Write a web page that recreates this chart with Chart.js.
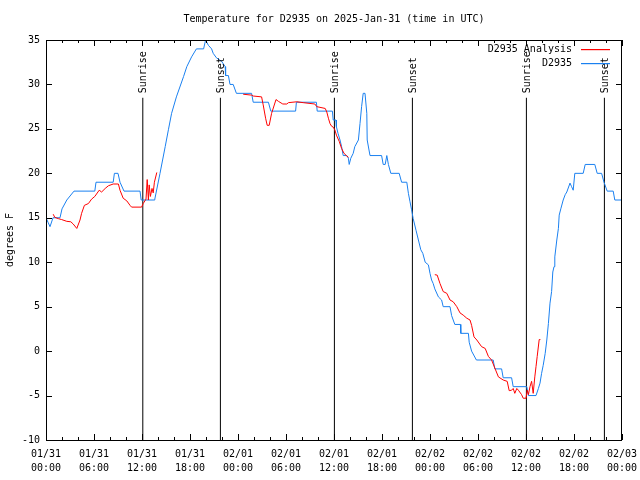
<!DOCTYPE html>
<html>
<head>
<meta charset="utf-8">
<script src="https://cdn.jsdelivr.net/npm/chart.js@4.4.1/dist/chart.umd.min.js"></script>
<style>
  body { margin: 0; background: #fff; }
</style>
</head>
<body>
<canvas id="myChart" width="640" height="480"></canvas>
<script>
// hours after 01/31 00:00 UTC, temperature in degrees F
var observed = [
    [0, 15], [0.25, 14.5], [0.5, 14], [0.875, 15], [1.75, 15], [2.0, 16], [2.6, 17], [3.5, 18],
    [6.1, 18], [6.25, 19], [8.4, 19], [8.55, 20], [9.0, 20], [9.25, 19], [9.75, 18], [11.75, 18],
    [11.9, 17], [13.5, 17], [13.6, 17.1], [14.25, 20], [14.9, 23], [15.3, 24.9], [15.7, 26.75],
    [16.3, 28.6], [17.2, 30.9], [17.6, 32], [18.2, 33.1], [18.8, 34], [19.7, 34], [19.95, 35],
    [20.3, 34.4], [20.7, 34], [20.9, 33.5], [21.3, 33], [21.95, 32.6], [22.4, 32], [22.45, 31],
    [22.8, 31], [23.0, 30], [23.4, 30], [23.8, 29], [25.7, 29], [25.9, 28], [27.8, 28], [28.1, 27],
    [31.2, 27], [31.3, 28], [33.8, 28], [33.9, 27], [35.8, 27], [35.9, 26], [36.25, 26],
    [36.3, 25.25], [36.5, 24.5], [36.75, 23.75], [36.95, 23], [37.15, 22], [37.6, 22], [37.8, 21.7],
    [37.9, 21], [38.1, 21.7], [38.4, 22.25], [38.6, 23], [39.05, 23.75], [39.25, 25.6], [39.45, 27.5],
    [39.65, 29], [39.875, 29], [40.1, 26.75], [40.15, 23.75], [40.5, 22], [41.95, 22], [42.15, 21],
    [42.4, 21], [42.6, 22], [42.8, 21], [43.1, 20], [44.15, 20], [44.45, 19], [45.1, 19],
    [45.3, 17.75], [45.5, 16.8], [45.7, 15.9], [45.9, 14.9], [46.25, 13.6], [46.55, 12.5],
    [46.85, 11.4], [47.1, 11], [47.4, 10], [47.8, 9.7], [48.0, 8.75], [48.2, 8], [48.4, 7.6],
    [48.6, 7], [49.05, 6.1], [49.45, 5.75], [49.65, 5], [50.5, 5], [50.7, 4], [51.1, 3], [51.8, 3],
    [51.85, 2], [52.8, 2], [52.9, 1], [53.2, 0], [53.8, -1], [55.9, -1], [56.1, -2], [56.95, -2],
    [57.15, -3], [58.2, -3], [58.4, -4], [60.1, -4], [60.3, -5], [61.25, -5], [61.55, -4.2],
    [61.75, -3.6], [61.95, -2.5], [62.15, -1.6], [62.4, -0.25], [62.6, 1.25], [62.8, 3.1],
    [63.0, 5.4], [63.2, 6.7], [63.35, 8.9], [63.5, 9.5], [63.6, 10.6], [63.85, 12.5], [64.05, 13.8],
    [64.15, 15.3], [64.35, 16], [64.65, 17], [64.9, 17.6], [65.1, 17.9], [65.5, 18.9], [65.7, 18.5],
    [65.9, 18.1], [66.1, 20], [67.15, 20], [67.4, 21], [68.6, 21], [68.9, 20], [69.45, 20],
    [69.75, 19], [70.15, 18], [70.9, 18], [71.1, 17], [72, 17]
];

// analysis series, null = no data
var analysis = [
    [0.9, 15.4], [1.1, 15.05], [1.55, 14.9], [1.95, 14.8], [2.6, 14.6], [3.1, 14.55], [3.4, 14.3],
    [3.85, 13.8], [4.25, 14.75], [4.45, 15.5], [4.8, 16.4], [5.3, 16.6], [5.7, 17.1], [6.1, 17.4],
    [6.65, 18.1], [6.95, 17.9], [7.4, 18.3], [7.8, 18.6], [8.4, 18.8], [9.05, 18.8], [9.25, 18.1],
    [9.65, 17.2], [10.1, 16.9], [10.5, 16.4], [10.7, 16.2], [11.95, 16.2], [12.15, 16.6],
    [12.5, 17.1], [12.65, 19.3], [12.8, 17], [12.9, 18.7], [13.05, 17.4], [13.25, 18.3],
    [13.4, 17.8], [13.55, 19], [13.85, 20.1],
    [14.5, null],
    [24.65, 28.9], [25.7, 28.8], [25.9, 28.7], [26.95, 28.6], [27.15, 27.7], [27.45, 26.2],
    [27.65, 25.4], [27.9, 25.4], [28.2, 26.75], [28.75, 28.3], [29.05, 28.1], [29.6, 27.8],
    [30.1, 27.8], [30.3, 27.95], [31.35, 28.05], [32.15, 27.95], [33.6, 27.8], [33.85, 27.5],
    [34.9, 27.3], [35.1, 26.9], [35.3, 26.2], [35.5, 25.6], [35.7, 25.3], [35.9, 25.2],
    [36.1, 24.9], [36.3, 24.3], [36.65, 23.6], [36.95, 22.8], [37.25, 22.25], [37.6, 21.95],
    [37.8, 21.8],
    [40, null],
    [48.6, 8.6], [48.9, 8.55], [49.25, 7.6], [49.65, 6.7], [50.1, 6.5], [50.5, 5.75], [50.9, 5.55],
    [51.35, 5.0], [51.75, 4.3], [52.15, 4.05], [52.6, 3.7], [53.0, 3.5], [53.2, 2.9], [53.5, 1.6],
    [53.85, 1.25], [54.45, 0.5], [54.9, 0.3], [55.3, -0.6], [55.7, -1.0], [56.1, -1.9],
    [56.55, -2.9], [57.15, -3.25], [57.65, -3.4], [57.9, -4.45], [58.2, -4.4], [58.4, -4.2],
    [58.6, -4.75], [58.85, -4.2], [59.05, -4.4], [59.45, -4.9], [59.65, -5.3], [60.0, -5.3],
    [60.15, -4.4], [60.3, -4.9], [60.5, -4.0], [60.7, -3.4], [60.9, -4.75], [61.1, -2.9],
    [61.25, -1.75], [61.4, -0.6], [61.65, 1.3], [61.8, 1.3]
];

var sunriseHours = [12.1, 36.05, 60.05];
var sunsetHours = [21.8, 45.8, 69.8];
var sunLineTop = 28.5;
var sunLabelAt = 29;

var dayLabels = ['01/31', '02/01', '02/02', '02/03'];
var timeLabels = ['00:00', '06:00', '12:00', '18:00'];
var seriesNames = ['D2935 Analysis', 'D2935'];
var seriesColors = ['#ff0000', '#1a80f0'];
var titleText = 'Temperature for D2935 on 2025-Jan-31 (time in UTC)';

var FONT = '"DejaVu Sans Mono", "Liberation Mono", monospace';

function toPoints(arr) {
    return arr.map(function(p) { return {x: p[0], y: p[1]}; });
}

var sunPoints = [];
sunriseHours.concat(sunsetHours).forEach(function(h) {
    sunPoints.push({x: h, y: -10});
    sunPoints.push({x: h, y: sunLineTop});
    sunPoints.push({x: h, y: null});
});

var frame = {
    id: 'frame',
    afterDatasetsDraw: function(chart) {
        var ctx = chart.ctx;
        var a = chart.chartArea;
        var xs = chart.scales.x;
        var ys = chart.scales.y;
        ctx.save();
        ctx.strokeStyle = '#000';
        ctx.lineWidth = 1;
        ctx.strokeRect(a.left + 0.5, a.top + 0.5, a.right - a.left - 1, a.bottom - a.top);

        ctx.beginPath();
        for (var h = 0; h <= 72; h += 2) {
            var px = Math.round(xs.getPixelForValue(h)) + 0.5;
            var len = (h % 6 == 0) ? 6 : 3;
            ctx.moveTo(px, a.bottom);
            ctx.lineTo(px, a.bottom - len);
            ctx.moveTo(px, a.top);
            ctx.lineTo(px, a.top + len);
        }
        for (var t = -10; t <= 35; t += 5) {
            var py = Math.round(ys.getPixelForValue(t)) + 0.5;
            ctx.moveTo(a.left, py);
            ctx.lineTo(a.left + 6, py);
            ctx.moveTo(a.right, py);
            ctx.lineTo(a.right - 6, py);
        }
        ctx.stroke();

        ctx.fillStyle = '#000';
        ctx.font = '10px ' + FONT;
        ctx.textBaseline = 'middle';

        // title centred over the plot
        ctx.textAlign = 'center';
        ctx.fillText(titleText, (a.left + a.right) / 2, 19);

        // sunrise / sunset labels
        ctx.textAlign = 'left';
        function sunLabel(h, text) {
            ctx.save();
            ctx.translate(xs.getPixelForValue(h) + 1, ys.getPixelForValue(sunLabelAt));
            ctx.rotate(-Math.PI / 2);
            ctx.fillText(text, 0, 0);
            ctx.restore();
        }
        sunriseHours.forEach(function(h) { sunLabel(h, 'Sunrise'); });
        sunsetHours.forEach(function(h) { sunLabel(h, 'Sunset'); });

        // legend, top right inside the plot
        ctx.textAlign = 'right';
        for (var i = 0; i < seriesNames.length; i++) {
            var ly = a.top + 9 + i * 14;
            ctx.fillStyle = '#000';
            ctx.fillText(seriesNames[i], a.right - 50, ly);
            ctx.fillStyle = seriesColors[i];
            ctx.fillRect(a.right - 41, ly, 29, 1.2);
        }
        ctx.restore();
    }
};

var ctx = document.getElementById('myChart').getContext('2d');
var myChart = new Chart(ctx, {
    type: 'line',
    data: {
        datasets: [{
            label: seriesNames[0],
            data: toPoints(analysis),
            borderColor: seriesColors[0],
            borderWidth: 1,
            pointRadius: 0,
            spanGaps: false
        }, {
            label: seriesNames[1],
            data: toPoints(observed),
            borderColor: seriesColors[1],
            borderWidth: 1,
            pointRadius: 0
        }, {
            label: 'sun',
            data: sunPoints,
            borderColor: '#000',
            borderWidth: 1,
            pointRadius: 0,
            spanGaps: false
        }]
    },
    options: {
        responsive: false,
        animation: false,
        devicePixelRatio: 1,
        layout: { padding: { left: 0, right: 18, top: 40, bottom: 0 } },
        plugins: {
            legend: { display: false },
            tooltip: { enabled: false },
            title: { display: false }
        },
        scales: {
            x: {
                type: 'linear',
                min: 0,
                max: 72,
                grid: { display: false, drawTicks: false },
                border: { display: false },
                ticks: {
                    stepSize: 6,
                    autoSkip: false,
                    maxRotation: 0,
                    padding: 7,
                    color: '#000',
                    font: { family: FONT, size: 10, lineHeight: 1.4 },
                    callback: function(v) {
                        return [dayLabels[Math.floor(v / 24)], timeLabels[(v % 24) / 6]];
                    }
                },
                afterFit: function(s) {
                    s.height = 40;
                    s.paddingLeft = 0;
                    s.paddingRight = 0;
                }
            },
            y: {
                min: -10,
                max: 35,
                grid: { display: false, drawTicks: false },
                border: { display: false },
                ticks: {
                    stepSize: 5,
                    padding: 6,
                    color: '#000',
                    font: { family: FONT, size: 10 }
                },
                title: {
                    display: true,
                    text: 'degrees F',
                    color: '#000',
                    font: { family: FONT, size: 10 },
                    padding: { top: 4, bottom: 0 }
                },
                afterFit: function(s) { s.width = 46; }
            }
        }
    },
    plugins: [frame]
});
</script>
</body>
</html>
